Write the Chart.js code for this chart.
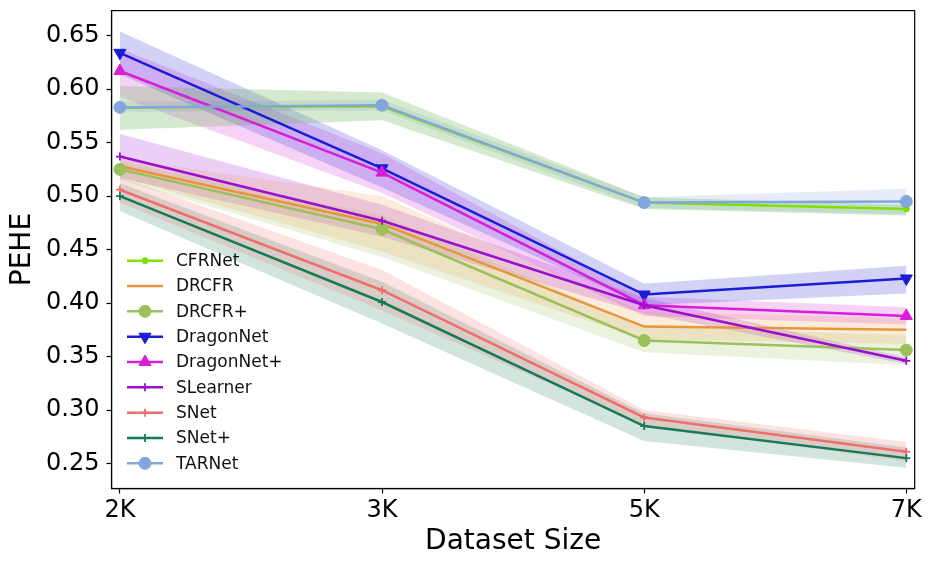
<!DOCTYPE html>
<html>
<head>
<meta charset="utf-8">
<script src="https://cdn.jsdelivr.net/npm/chart.js@4.4.1/dist/chart.umd.min.js"></script>
<style>
  body { margin: 0; background: #ffffff; }
  #wrap { width: 934px; height: 568px; }
</style>
</head>
<body>
<div id="wrap"><canvas id="myChart" width="934" height="568"></canvas></div>
<script>
// categories and ticks
const xLabels = ['2K', '3K', '5K', '7K'];
const yTicks = [0.25, 0.30, 0.35, 0.40, 0.45, 0.50, 0.55, 0.60, 0.65];

// series names
const seriesNames = ['CFRNet', 'DRCFR', 'DRCFR+', 'DragonNet', 'DragonNet+', 'SLearner', 'SNet', 'SNet+', 'TARNet'];

// mean PEHE per dataset size
const cfrnet = [0.583, 0.584, 0.494, 0.488];
const drcfr = [0.528, 0.474, 0.378, 0.375];
const drcfrPlus = [0.525, 0.469, 0.365, 0.356];
const dragonnet = [0.634, 0.526, 0.408, 0.423];
const dragonnetPlus = [0.617, 0.522, 0.398, 0.388];
const slearner = [0.537, 0.477, 0.398, 0.346];
const snet = [0.506, 0.412, 0.293, 0.261];
const snetPlus = [0.500, 0.401, 0.285, 0.255];
const tarnet = [0.583, 0.585, 0.494, 0.495];

// lower / upper band bounds
const cfrnetLow = [0.562, 0.571, 0.488, 0.482];
const cfrnetHigh = [0.603, 0.597, 0.499, 0.492];
const drcfrLow = [0.518, 0.448, 0.366, 0.362];
const drcfrHigh = [0.535, 0.500, 0.392, 0.386];
const drcfrPlusLow = [0.515, 0.443, 0.354, 0.342];
const drcfrPlusHigh = [0.532, 0.482, 0.378, 0.370];
const dragonnetLow = [0.614, 0.508, 0.398, 0.409];
const dragonnetHigh = [0.654, 0.543, 0.418, 0.435];
const dragonnetPlusLow = [0.593, 0.503, 0.388, 0.380];
const dragonnetPlusHigh = [0.638, 0.540, 0.406, 0.396];
const slearnerLow = [0.517, 0.462, 0.390, 0.343];
const slearnerHigh = [0.558, 0.492, 0.405, 0.349];
const snetLow = [0.494, 0.393, 0.286, 0.252];
const snetHigh = [0.518, 0.431, 0.300, 0.270];
const snetPlusLow = [0.486, 0.381, 0.271, 0.246];
const snetPlusHigh = [0.512, 0.420, 0.297, 0.265];
const tarnetLow = [0.579, 0.580, 0.489, 0.483];
const tarnetHigh = [0.588, 0.590, 0.499, 0.507];

const means = [cfrnet, drcfr, drcfrPlus, dragonnet, dragonnetPlus, slearner, snet, snetPlus, tarnet];
const lows = [cfrnetLow, drcfrLow, drcfrPlusLow, dragonnetLow, dragonnetPlusLow, slearnerLow, snetLow, snetPlusLow, tarnetLow];
const highs = [cfrnetHigh, drcfrHigh, drcfrPlusHigh, dragonnetHigh, dragonnetPlusHigh, slearnerHigh, snetHigh, snetPlusHigh, tarnetHigh];

// styles
const lineColors = ['#80e000', '#e8963c', '#9cc05a', '#1c1cd6', '#d81ed8', '#9a0fd0', '#ef6f6a', '#177a57', '#83a6dd'];
const bandColors = [
    'rgba(100,175,80,0.28)', 'rgba(232,150,60,0.18)', 'rgba(156,192,90,0.2)',
    'rgba(28,28,214,0.2)', 'rgba(216,30,216,0.2)', 'rgba(154,15,208,0.2)',
    'rgba(239,111,106,0.2)', 'rgba(23,122,87,0.2)', 'rgba(131,166,221,0.2)'
];
const markers = [
    { style: 'circle', r: 3, rot: 0 },
    { style: false, r: 0, rot: 0 },
    { style: 'circle', r: 6, rot: 0 },
    { style: 'triangle', r: 7, rot: 180 },
    { style: 'triangle', r: 7, rot: 0 },
    { style: 'cross', r: 4, rot: 0 },
    { style: 'cross', r: 4, rot: 0 },
    { style: 'cross', r: 4, rot: 0 },
    { style: 'circle', r: 6, rot: 0 }
];

const toPts = arr => arr.map((v, i) => ({ x: i, y: v }));

// build datasets: bands first (behind), lines on top
const datasets = [];
seriesNames.forEach((name, i) => {
    const lowIndex = datasets.length;
    datasets.push({
        label: name + ' low', data: toPts(lows[i]), isBand: true,
        borderWidth: 0, pointRadius: 0, fill: false, order: 200
    });
    datasets.push({
        label: name + ' high', data: toPts(highs[i]), isBand: true,
        borderWidth: 0, pointRadius: 0, fill: lowIndex,
        backgroundColor: bandColors[i], order: 200
    });
});
seriesNames.forEach((name, i) => {
    const m = markers[i];
    datasets.push({
        label: name, data: toPts(means[i]), isBand: false,
        borderColor: lineColors[i], backgroundColor: lineColors[i],
        borderWidth: 2.5, fill: false,
        pointStyle: m.style || 'circle', pointRadius: m.r, pointRotation: m.rot,
        pointBorderWidth: m.style === 'cross' ? 1.8 : 1,
        markerInfo: m,
        order: 100 - i
    });
});

// frame around the plot area
const framePlugin = {
    id: 'frame',
    afterDraw(chart) {
        const { ctx, chartArea: a } = chart;
        ctx.save();
        ctx.strokeStyle = '#000';
        ctx.lineWidth = 1.2;
        ctx.strokeRect(a.left, a.top, a.right - a.left, a.bottom - a.top);
        ctx.restore();
    }
};

// legend drawn inside the plot area
const legendPlugin = {
    id: 'innerLegend',
    afterDraw(chart) {
        const ctx = chart.ctx;
        const lines = chart.data.datasets.filter(d => !d.isBand);
        ctx.save();
        lines.forEach((d, k) => {
            const y = 260.7 + k * 25.33;
            ctx.strokeStyle = d.borderColor;
            ctx.lineWidth = 2.5;
            ctx.beginPath();
            ctx.moveTo(127, y);
            ctx.lineTo(163, y);
            ctx.stroke();
            const m = d.markerInfo;
            if (m.style) {
                ctx.fillStyle = d.borderColor;
                ctx.strokeStyle = d.borderColor;
                ctx.lineWidth = m.style === 'cross' ? 1.8 : 1;
                Chart.helpers.drawPoint(ctx, {
                    pointStyle: m.style, radius: m.r, rotation: m.rot, borderWidth: ctx.lineWidth
                }, 145, y);
            }
            ctx.fillStyle = '#111';
            ctx.font = '17px "DejaVu Sans"';
            ctx.textBaseline = 'middle';
            ctx.textAlign = 'left';
            ctx.fillText(d.label, 176, y + 1);
        });
        ctx.restore();
    }
};

const canvas = document.getElementById('myChart');
const ctx = canvas.getContext('2d');

new Chart(ctx, {
    type: 'line',
    data: { datasets },
    options: {
        responsive: false,
        animation: false,
        layout: { padding: { top: 10.6, right: 19.3, left: 0, bottom: 0 } },
        plugins: {
            legend: { display: false },
            tooltip: { enabled: false }
        },
        elements: { line: { tension: 0 } },
        scales: {
            x: {
                type: 'linear',
                min: -0.032,
                max: 3.032,
                afterBuildTicks: axis => { axis.ticks = xLabels.map((_, i) => ({ value: i })); },
                afterFit: scale => { scale.height = 79.5; },
                grid: { drawOnChartArea: false, drawTicks: true, tickLength: 5, color: '#000', tickWidth: 1.2 },
                border: { display: true, color: '#000', width: 1.2 },
                ticks: {
                    callback: v => xLabels[v],
                    color: '#000',
                    font: { family: 'DejaVu Sans', size: 24 },
                    padding: 3,
                    maxRotation: 0,
                    autoSkip: false
                },
                title: {
                    display: true,
                    text: 'Dataset Size',
                    color: '#000',
                    font: { family: 'DejaVu Sans', size: 28 },
                    padding: { top: 0, bottom: 9 }
                }
            },
            y: {
                min: 0.2266,
                max: 0.6735,
                afterBuildTicks: axis => { axis.ticks = yTicks.map(v => ({ value: v })); },
                afterFit: scale => {
                    scale.width = 111.5;
                    scale.paddingTop = 0;
                    scale.paddingBottom = 0;
                },
                grid: { drawOnChartArea: false, drawTicks: true, tickLength: 5, color: '#000', tickWidth: 1.2 },
                border: { display: true, color: '#000', width: 1.2 },
                ticks: {
                    callback: v => v.toFixed(2),
                    color: '#000',
                    font: { family: 'DejaVu Sans', size: 24 },
                    padding: 7
                },
                title: {
                    display: true,
                    text: 'PEHE',
                    color: '#000',
                    font: { family: 'DejaVu Sans', size: 28 },
                    padding: { top: 6, bottom: 0 }
                }
            }
        }
    },
    plugins: [framePlugin, legendPlugin]
});
</script>
</body>
</html>
